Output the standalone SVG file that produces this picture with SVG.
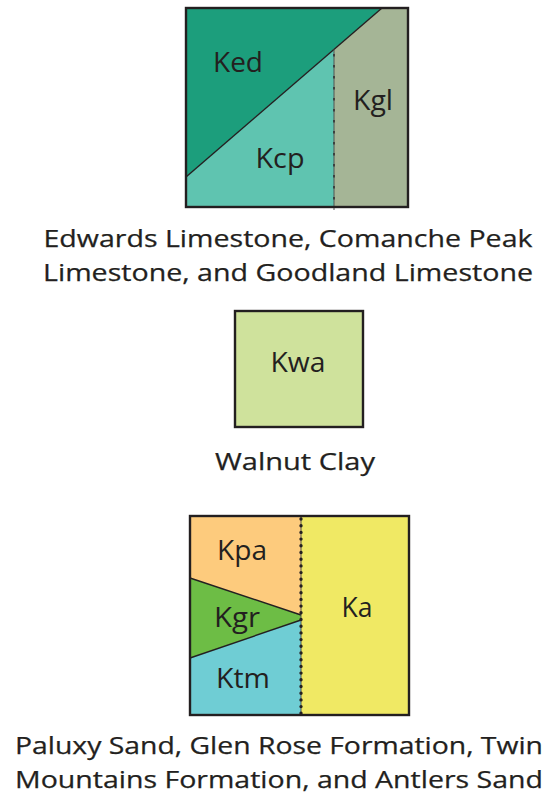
<svg xmlns="http://www.w3.org/2000/svg" width="553" height="795" viewBox="0 0 553 795">
  <style>
    .lbl { font-family: "Open Sans", "Liberation Sans", sans-serif; font-size: 27px; fill: #231f20; text-anchor: middle; }
    .cap { font-family: "Open Sans", "Liberation Sans", sans-serif; font-size: 24.5px; fill: #231f20; text-anchor: middle; stroke: #231f20; stroke-width: 0.25; }
    .frame { fill: none; stroke: #231f20; stroke-width: 2.4; }
    .contact { fill: none; stroke: #231f20; stroke-width: 1.4; }
    .hair { stroke: #4a4a4a; stroke-width: 0.9; fill: none; }
    .dashes { stroke: #3a3a3a; stroke-width: 1.8; stroke-dasharray: 2.5 8.5; fill: none; }
    .dots { stroke: #231f20; stroke-width: 3.4; stroke-linecap: round; stroke-dasharray: 0 6.7; fill: none; }
  </style>

  <!-- Edwards / Comanche Peak / Goodland block -->
  <g id="unit-ked-kcp-kgl">
    <polygon points="186,8 382,8 186,177" fill="#1c9e7c"/>
    <polygon points="186,177 334,49 334,207 186,207" fill="#5fc4b0"/>
    <polygon points="382,8 408,8 408,207 334,207 334,49" fill="#a5b596"/>
    <line class="contact" x1="382" y1="8" x2="186" y2="177"/>
    <line class="hair" x1="334" y1="49" x2="334" y2="210"/>
    <line class="dashes" x1="334" y1="54" x2="334" y2="207"/>
    <rect class="frame" x="186" y="8" width="222" height="199"/>
    <text class="lbl" x="238" y="72" textLength="50" lengthAdjust="spacingAndGlyphs">Ked</text>
    <text class="lbl" x="373" y="110" textLength="40" lengthAdjust="spacingAndGlyphs">Kgl</text>
    <text class="lbl" x="280" y="168" textLength="49" lengthAdjust="spacingAndGlyphs">Kcp</text>
    <text class="cap" x="288" y="247" textLength="489" lengthAdjust="spacingAndGlyphs">Edwards Limestone, Comanche Peak</text>
    <text class="cap" x="288" y="281" textLength="490" lengthAdjust="spacingAndGlyphs">Limestone, and Goodland Limestone</text>
  </g>

  <!-- Walnut Clay -->
  <g id="unit-kwa">
    <rect x="235" y="311" width="128" height="116" fill="#cfe29c"/>
    <rect class="frame" x="235" y="311" width="128" height="116"/>
    <text class="lbl" x="298" y="372" textLength="55" lengthAdjust="spacingAndGlyphs">Kwa</text>
    <text class="cap" x="295" y="470" textLength="160" lengthAdjust="spacingAndGlyphs">Walnut Clay</text>
  </g>

  <!-- Paluxy / Glen Rose / Twin Mountains / Antlers block -->
  <g id="unit-kpa-kgr-ktm-ka">
    <polygon points="190,516 301,516 301,615 190,578" fill="#fdcb7d"/>
    <polygon points="190,578 301,615 301,620 190,658" fill="#6dbd45"/>
    <polygon points="190,658 301,620 301,715 190,715" fill="#6fcdd4"/>
    <rect x="301" y="516" width="108" height="199" fill="#f0e964"/>
    <line class="contact" x1="190" y1="578" x2="301" y2="615"/>
    <line class="contact" x1="190" y1="658" x2="301" y2="620"/>
    <line class="hair" x1="301" y1="516" x2="301" y2="715"/>
    <line class="dots" x1="301" y1="519" x2="301" y2="715"/>
    <rect class="frame" x="190" y="516" width="219" height="199"/>
    <text class="lbl" x="242" y="560" textLength="50" lengthAdjust="spacingAndGlyphs">Kpa</text>
    <text class="lbl" x="237" y="627" textLength="46" lengthAdjust="spacingAndGlyphs">Kgr</text>
    <text class="lbl" x="243" y="688" textLength="54" lengthAdjust="spacingAndGlyphs">Ktm</text>
    <text class="lbl" x="357" y="617" textLength="31" lengthAdjust="spacingAndGlyphs">Ka</text>
    <text class="cap" x="279" y="754" textLength="528" lengthAdjust="spacingAndGlyphs">Paluxy Sand, Glen Rose Formation, Twin</text>
    <text class="cap" x="279" y="788" textLength="528" lengthAdjust="spacingAndGlyphs">Mountains Formation, and Antlers Sand</text>
  </g>
</svg>
